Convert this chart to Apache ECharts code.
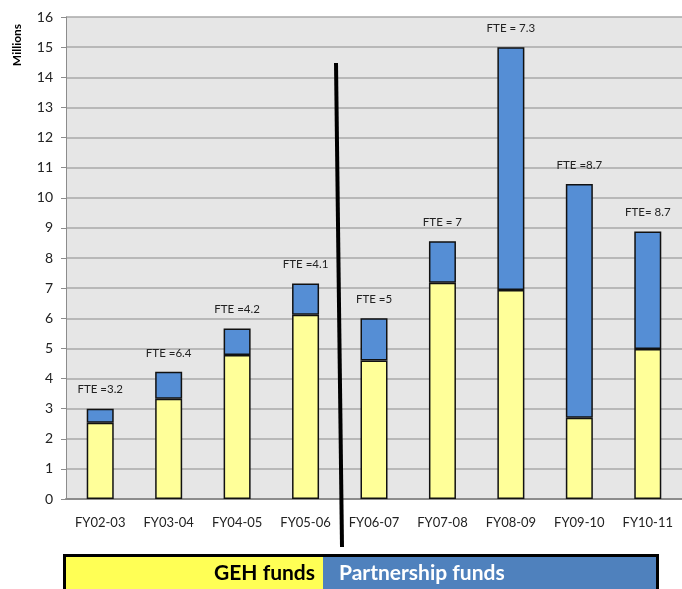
<!DOCTYPE html>
<html>
<head>
<meta charset="utf-8">
<script src="https://cdn.jsdelivr.net/npm/echarts@6/dist/echarts.min.js"></script>
<style>
  html, body { margin: 0; padding: 0; background: #fff; }
  #chart { width: 682px; height: 589px; }
</style>
</head>
<body>
<div id="chart"></div>
<script>
// values in millions
const years = ['FY02-03', 'FY03-04', 'FY04-05', 'FY05-06', 'FY06-07', 'FY07-08', 'FY08-09', 'FY09-10', 'FY10-11']
const gehFunds = [2.53, 3.33, 4.78, 6.12, 4.6, 7.18, 6.94, 2.7, 4.98]
const partnershipFunds = [0.47, 0.89, 0.88, 1.03, 1.4, 1.38, 8.06, 7.76, 3.9]
const fteLabels = ['FTE =3.2', 'FTE =6.4', 'FTE =4.2', 'FTE =4.1', 'FTE =5', 'FTE = 7', 'FTE = 7.3', 'FTE =8.7', 'FTE= 8.7']

const font = 'Lato, "Open Sans", sans-serif'
const chart = echarts.init(document.getElementById('chart'))

const option = {
  backgroundColor: '#fff',
  animation: false,
  grid: {
    left: 66,
    top: 17,
    width: 620,
    height: 482,
    show: true,
    backgroundColor: '#e6e6e6',
    borderWidth: 0
  },
  xAxis: {
    type: 'category',
    data: years,
    axisLine: { lineStyle: { color: '#8c8c8c', width: 2 } },
    axisTick: { show: false },
    axisLabel: { color: '#222', fontSize: 13, fontFamily: font, margin: 17 }
  },
  yAxis: {
    type: 'value',
    min: 0,
    max: 16,
    interval: 1,
    axisLine: { show: true, lineStyle: { color: '#8c8c8c', width: 1 } },
    axisTick: { show: true, length: 5, lineStyle: { color: '#8c8c8c' } },
    axisLabel: { color: '#222', fontSize: 14, fontFamily: font, margin: 13 },
    splitLine: { lineStyle: { color: '#a8a8a8', width: 1.5 } }
  },
  series: [
    {
      name: 'GEH funds',
      type: 'bar',
      stack: 'funds',
      barWidth: 27,
      data: gehFunds,
      itemStyle: { color: '#ffff99', borderColor: '#111', borderWidth: 1.5 }
    },
    {
      name: 'Partnership funds',
      type: 'bar',
      stack: 'funds',
      barWidth: 27,
      data: partnershipFunds,
      itemStyle: { color: '#558ed5', borderColor: '#111', borderWidth: 1.5 },
      label: {
        show: true,
        position: 'top',
        distance: 13,
        color: '#222',
        fontSize: 11.5,
        fontFamily: font,
        formatter: p => fteLabels[p.dataIndex]
      }
    }
  ],
  graphic: [
    // y axis title
    {
      type: 'text',
      x: 17,
      y: 45,
      rotation: Math.PI / 2,
      style: {
        text: 'Millions',
        font: 'bold 12px ' + font,
        fill: '#000',
        align: 'center',
        verticalAlign: 'middle'
      }
    },
    // divider between the two periods
    {
      type: 'line',
      z: 100,
      shape: { x1: 336, y1: 63, x2: 342, y2: 547 },
      style: { stroke: '#000', lineWidth: 4 }
    },
    // legend strip
    {
      type: 'rect',
      shape: { x: 65, y: 556, width: 258, height: 40 },
      style: { fill: '#ffff55' }
    },
    {
      type: 'rect',
      shape: { x: 323, y: 556, width: 333, height: 40 },
      style: { fill: '#4f81bd' }
    },
    {
      type: 'rect',
      shape: { x: 64.5, y: 555.5, width: 593, height: 45 },
      style: { fill: null, stroke: '#000', lineWidth: 3 }
    },
    {
      type: 'text',
      x: 315,
      y: 573,
      style: {
        text: 'GEH funds',
        font: 'bold 21px ' + font,
        fill: '#000',
        align: 'right',
        verticalAlign: 'middle'
      }
    },
    {
      type: 'text',
      x: 339,
      y: 573,
      style: {
        text: 'Partnership funds',
        font: 'bold 21px ' + font,
        fill: '#fff',
        align: 'left',
        verticalAlign: 'middle'
      }
    }
  ]
}

chart.setOption(option)
</script>
</body>
</html>
